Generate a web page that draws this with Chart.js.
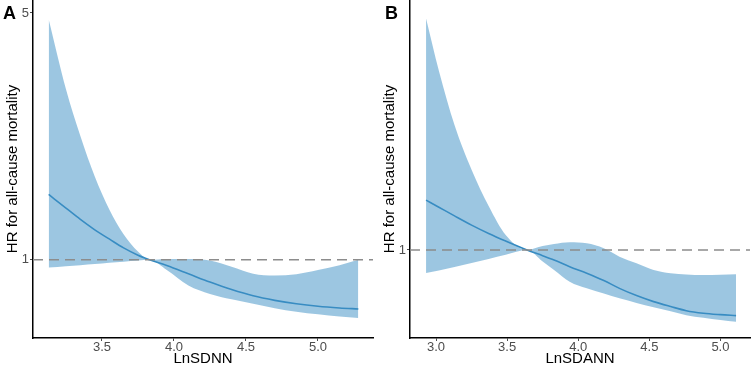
<!DOCTYPE html>
<html>
<head>
<meta charset="utf-8">
<script src="https://cdn.jsdelivr.net/npm/chart.js@4.4.1/dist/chart.umd.min.js"></script>
<style>
  body { margin: 0; background: #fff; }
  #wrap { position: relative; width: 754px; height: 368px; }
  .panel { position: absolute; top: 0; width: 377px; height: 368px; }
  .tag { position: absolute; top: 4px; font: bold 18px "Liberation Sans", Arial, sans-serif; line-height: 18px; color: #000; }
</style>
</head>
<body>
<div id="wrap">
  <div class="panel" style="left:0"><canvas id="chartA" width="377" height="368"></canvas><div class="tag" style="left:3px">A</div></div>
  <div class="panel" style="left:377px"><canvas id="chartB" width="377" height="368"></canvas><div class="tag" style="left:8px">B</div></div>
</div>
<script>
// panel A - LnSDNN
const xA = [3.13, 3.25, 3.35, 3.45, 3.55, 3.65, 3.75, 3.83, 3.95, 4.10, 4.25, 4.40, 4.55, 4.70, 4.85, 5.00, 5.15, 5.28];
const hrA = [1.53, 1.40, 1.30, 1.215, 1.145, 1.08, 1.03, 1.00, 0.962, 0.912, 0.864, 0.823, 0.79, 0.767, 0.75, 0.738, 0.73, 0.725];
const upperA = [4.79, 3.04, 2.24, 1.72, 1.39, 1.18, 1.054, 1.00, 1.005, 1.005, 0.995, 0.955, 0.913, 0.902, 0.91, 0.935, 0.965, 1.00];
const lowerA = [0.95, 0.958, 0.965, 0.972, 0.98, 0.987, 0.994, 1.00, 0.935, 0.845, 0.80, 0.772, 0.75, 0.729, 0.712, 0.70, 0.69, 0.684];
const xTicksA = [3.5, 4.0, 4.5, 5.0];
const yTicksA = [1, 5];

// panel B - LnSDANN
const xB = [2.93, 3.02, 3.13, 3.25, 3.37, 3.49, 3.64, 3.75, 3.83, 3.94, 4.06, 4.18, 4.29, 4.41, 4.53, 4.65, 4.76, 4.88, 5.00, 5.11];
const hrB = [1.37, 1.31, 1.24, 1.17, 1.11, 1.058, 1.00, 0.965, 0.939, 0.90, 0.864, 0.825, 0.785, 0.75, 0.722, 0.70, 0.682, 0.671, 0.665, 0.661];
const upperB = [4.31, 3.10, 2.20, 1.66, 1.32, 1.10, 1.00, 1.025, 1.038, 1.05, 1.043, 1.011, 0.959, 0.92, 0.882, 0.864, 0.857, 0.854, 0.855, 0.858];
const lowerB = [0.865, 0.878, 0.898, 0.921, 0.945, 0.97, 1.00, 0.93, 0.882, 0.819, 0.785, 0.76, 0.737, 0.716, 0.697, 0.68, 0.663, 0.652, 0.643, 0.636];
const xTicksB = [3.0, 3.5, 4.0, 4.5, 5.0];
const yTicksB = [1];

const refHR = 1;
const FONT = '"Liberation Sans", Arial, sans-serif';

const pts = (xs, ys) => xs.map((x, i) => ({ x: x, y: ys[i] }));

// dashed line at HR = 1
const refLine = {
  id: 'refLine',
  afterDatasetsDraw(chart) {
    const { ctx, chartArea, scales } = chart;
    const y = scales.y.getPixelForValue(refHR);
    ctx.save();
    ctx.strokeStyle = '#8c8c8c';
    ctx.lineWidth = 1.6;
    ctx.setLineDash([10, 6]);
    ctx.beginPath();
    ctx.moveTo(chartArea.left, y);
    ctx.lineTo(chartArea.right, y);
    ctx.stroke();
    ctx.restore();
  }
};

function makeChart(id, xs, hr, up, lo, xTicks, yTicks, xRange, yRange, xTitle) {
  return new Chart(document.getElementById(id), {
    type: 'line',
    data: {
      datasets: [
        { data: pts(xs, up), borderWidth: 0, pointRadius: 0, fill: false, cubicInterpolationMode: 'monotone' },
        { data: pts(xs, lo), borderWidth: 0, pointRadius: 0, fill: '-1', backgroundColor: 'rgba(66,146,198,0.52)', cubicInterpolationMode: 'monotone' },
        { data: pts(xs, hr), borderColor: '#2f87bf', borderWidth: 1.6, pointRadius: 0, fill: false, cubicInterpolationMode: 'monotone' }
      ]
    },
    options: {
      responsive: false,
      animation: false,
      layout: { padding: { top: 0, right: 4, left: 0, bottom: 0 } },
      plugins: { legend: { display: false }, tooltip: { enabled: false } },
      scales: {
        x: {
          type: 'linear',
          min: xRange[0], max: xRange[1],
          afterBuildTicks: s => { s.ticks = xTicks.map(v => ({ value: v })); },
          afterFit: s => { s.height = 30; s.paddingLeft = 0; s.paddingRight = 0; },
          ticks: { color: '#4d4d4d', font: { family: FONT, size: 13 }, padding: -1, maxRotation: 0,
                   callback: v => v.toFixed(1) },
          grid: { display: true, drawOnChartArea: false, drawTicks: true, tickLength: 3, color: '#4d4d4d' },
          border: { display: true, color: '#000', width: 1.5 },
          title: { display: true, text: xTitle, color: '#000', font: { family: FONT, size: 15 }, padding: { top: 0, bottom: 0 } }
        },
        y: {
          type: 'logarithmic',
          min: yRange[0], max: yRange[1],
          afterBuildTicks: s => { s.ticks = yTicks.map(v => ({ value: v })); },
          afterFit: s => { s.width = 33; s.paddingTop = 0; s.paddingBottom = 0; },
          ticks: { color: '#4d4d4d', font: { family: FONT, size: 13 }, padding: 1,
                   callback: v => String(v) },
          grid: { display: true, drawOnChartArea: false, drawTicks: true, tickLength: 3, color: '#4d4d4d' },
          border: { display: true, color: '#000', width: 1.5 },
          title: { display: true, text: 'HR for all-cause mortality', color: '#000', font: { family: FONT, size: 15 }, padding: { top: 4, bottom: 0 } }
        }
      }
    },
    plugins: [refLine]
  });
}

makeChart('chartA', xA, hrA, upperA, lowerA, xTicksA, yTicksA, [3.021, 5.382], [0.617, 5.44], 'LnSDNN');
makeChart('chartB', xB, hrB, upperB, lowerB, xTicksB, yTicksB, [2.817, 5.208], [0.574, 4.84], 'LnSDANN');
</script>
</body>
</html>
